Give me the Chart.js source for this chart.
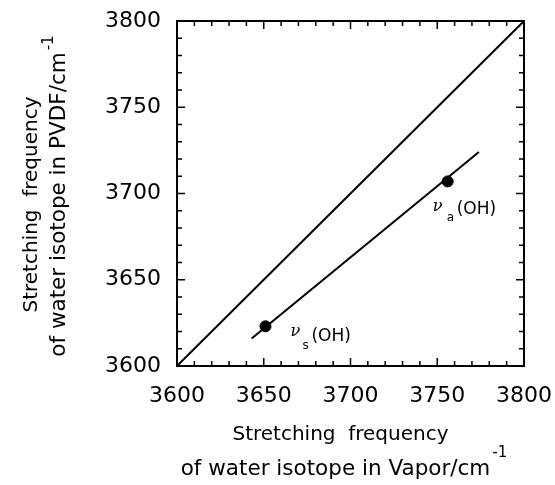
<!DOCTYPE html>
<html>
<head>
<meta charset="utf-8">
<script src="https://cdn.jsdelivr.net/npm/chart.js@4"></script>
<style>
  html, body { margin: 0; padding: 0; background: #fff; }
  #wrap { width: 555px; height: 485px; }
</style>
</head>
<body>
<div id="wrap"><canvas id="chart" width="555" height="485"></canvas></div>
<script>
// OH stretching modes, vapor vs. in PVDF (cm-1)
const vaporFreq = [3651, 3756];
const pvdfFreq = [3623, 3707];
const modeNames = ['s', 'a'];

// fitted line through the modes (end points)
const fitX = [3643, 3774];
const fitY = [3616, 3724];

// y = x reference
const diagX = [3600, 3800];
const diagY = [3600, 3800];

const tickValues = [3600, 3650, 3700, 3750, 3800];
const minorStep = 10;

const toXY = (xs, ys) => xs.map((x, i) => ({ x: x, y: ys[i] }));

const FONT = '"DejaVu Sans", Verdana, sans-serif';

// offsets of the mode label pieces from their point, in px
const labelLayout = {
    s: { nu: [25, 10], sub: [37, 23], oh: [46, 15] },
    a: { nu: [-15, 30], sub: [-1, 40], oh: [9, 33] }
};

function drawLine(ctx, text, size, sup, cx, base, raise) {
    ctx.font = size + 'px ' + FONT;
    ctx.textAlign = 'left';
    ctx.textBaseline = 'alphabetic';
    const w = ctx.measureText(text).width;
    ctx.fillText(text, cx - w / 2, base);
    if (sup) {
        ctx.font = '15px ' + FONT;
        ctx.fillText(sup, cx + w / 2 + 2, base - raise);
    }
}

const frame = {
    id: 'frame',
    afterDraw(chart) {
        const ctx = chart.ctx;
        const a = chart.chartArea;
        const xs = chart.scales.x, ys = chart.scales.y;
        ctx.save();
        ctx.strokeStyle = '#000';
        ctx.fillStyle = '#000';

        // box
        ctx.lineWidth = 2;
        ctx.strokeRect(a.left, a.top, a.right - a.left, a.bottom - a.top);

        // inward ticks on all four sides
        ctx.lineWidth = 1.5;
        ctx.beginPath();
        for (let v = xs.min; v <= xs.max + 0.01; v += minorStep) {
            const len = tickValues.includes(v) ? 8 : 5;
            const px = xs.getPixelForValue(v);
            ctx.moveTo(px, a.bottom); ctx.lineTo(px, a.bottom - len);
            ctx.moveTo(px, a.top); ctx.lineTo(px, a.top + len);
        }
        for (let v = ys.min; v <= ys.max + 0.01; v += minorStep) {
            const len = tickValues.includes(v) ? 8 : 5;
            const py = ys.getPixelForValue(v);
            ctx.moveTo(a.left, py); ctx.lineTo(a.left + len, py);
            ctx.moveTo(a.right, py); ctx.lineTo(a.right - len, py);
        }
        ctx.stroke();

        // axis titles
        const cx = (a.left + a.right) / 2 - 12;
        drawLine(ctx, 'Stretching  frequency', 20, null, cx + 2, a.bottom + 74, 0);
        drawLine(ctx, 'of water isotope in Vapor/cm', 21.5, '-1', cx - 3, a.bottom + 109, 18);

        const cy = (a.top + a.bottom) / 2 + 11;
        ctx.save();
        ctx.rotate(-Math.PI / 2);
        drawLine(ctx, 'Stretching  frequency', 20, null, -cy, 37, 0);
        drawLine(ctx, 'of water isotope in PVDF/cm', 21.5, '-1', -cy, 65, 12);
        ctx.restore();

        // mode labels
        const meta = chart.getDatasetMeta(2);
        modeNames.forEach((name, i) => {
            const pt = meta.data[i];
            const L = labelLayout[name];
            ctx.textAlign = 'left';
            ctx.textBaseline = 'alphabetic';
            ctx.font = 'italic 16px "DejaVu Serif", serif';
            ctx.fillText('\u03bd', pt.x + L.nu[0], pt.y + L.nu[1]);
            ctx.font = '12px ' + FONT;
            ctx.fillText(name, pt.x + L.sub[0], pt.y + L.sub[1]);
            ctx.font = '17px ' + FONT;
            ctx.fillText('(OH)', pt.x + L.oh[0], pt.y + L.oh[1]);
        });
        ctx.restore();
    }
};

const axis = (size, pad) => ({
    type: 'linear',
    min: 3600,
    max: 3800,
    afterBuildTicks: (s) => { s.ticks = tickValues.map(v => ({ value: v })); },
    afterFit: (s) => {
        if (s.isHorizontal()) s.height = size; else s.width = size;
        s.paddingTop = s.paddingBottom = s.paddingLeft = s.paddingRight = 0;
    },
    grid: { display: false, drawTicks: false },
    border: { display: false },
    ticks: {
        color: '#000',
        font: { family: FONT, size: 22 },
        padding: pad,
        maxRotation: 0,
        autoSkip: false,
        callback: (v) => String(v)
    }
});

new Chart(document.getElementById('chart'), {
    type: 'scatter',
    data: {
        datasets: [
            {
                label: 'y = x',
                data: toXY(diagX, diagY),
                showLine: true,
                borderColor: '#000',
                borderWidth: 2,
                pointRadius: 0
            },
            {
                label: 'fit',
                data: toXY(fitX, fitY),
                showLine: true,
                borderColor: '#000',
                borderWidth: 2,
                pointRadius: 0
            },
            {
                label: 'modes',
                data: toXY(vaporFreq, pvdfFreq),
                backgroundColor: '#000',
                borderColor: '#000',
                pointRadius: 5.5
            }
        ]
    },
    options: {
        responsive: false,
        animation: false,
        layout: { padding: { top: 21, right: 31, left: 0, bottom: 0 } },
        plugins: {
            legend: { display: false },
            tooltip: { enabled: false }
        },
        scales: { x: axis(119, 17), y: axis(177, 16) }
    },
    plugins: [frame]
});
</script>
</body>
</html>
